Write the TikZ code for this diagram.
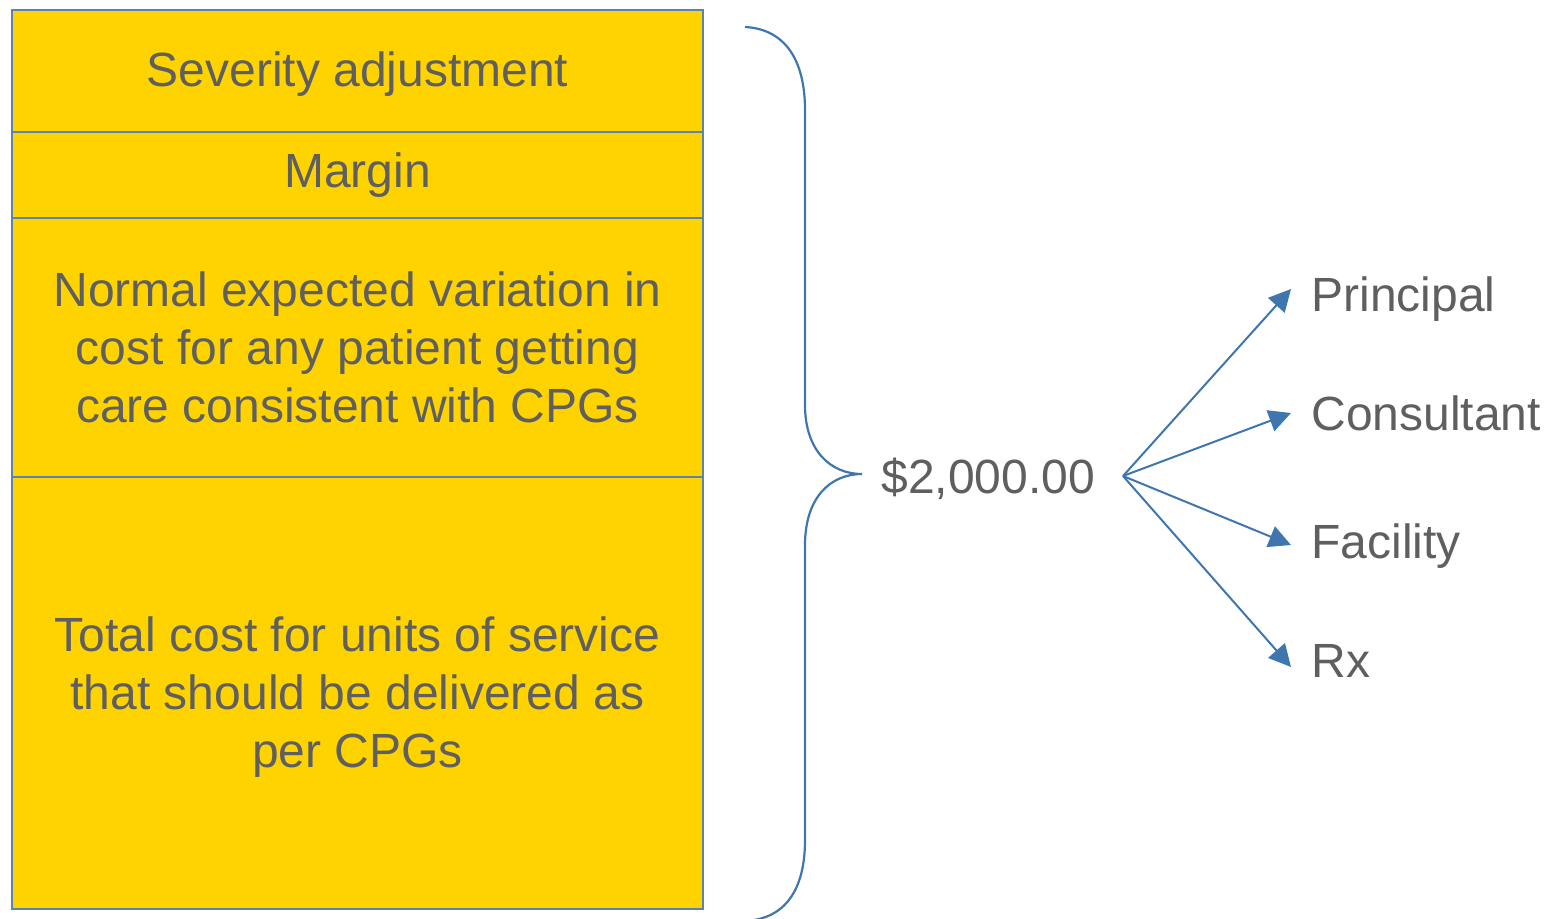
\documentclass[tikz,border=0pt]{standalone}
\usepackage{fontspec}
\setmainfont{Liberation Sans}
\usetikzlibrary{arrows.meta}
\definecolor{gold}{HTML}{FFD300}
\definecolor{edge}{HTML}{5A84AE}
\definecolor{txt}{HTML}{5F5F5F}
\definecolor{arrowblue}{HTML}{3F76AD}
\begin{document}
\begin{tikzpicture}[x=0.5pt,y=-0.5pt,
  sect/.style={draw=edge, line width=1pt, fill=gold, text=txt, anchor=north west,
    minimum width=345.5pt, inner sep=0pt, align=center,
    font=\fontsize{24}{29}\selectfont},
  lbl/.style={text=txt, inner sep=0pt, font=\fontsize{24}{29}\selectfont},
  arr/.style={draw=arrowblue, line width=1pt, -{Triangle[length=11pt,width=11pt]}},
  bracestyle/.style={draw=arrowblue, line width=1.1pt}]
\useasboundingbox (0,0) rectangle (1546,918);
\node[sect, minimum height=61pt, text depth=2pt] (sev) at (11,9) {Severity adjustment};
\node[sect, minimum height=43pt] (mar) at (11,131) {Margin};
\node[sect, minimum height=129.5pt] (nor) at (11,217) {Normal expected variation in\\cost for any patient getting\\care consistent with CPGs};
\node[sect, minimum height=216pt] (tot) at (11,476) {\rule{0pt}{21.5pt}Total cost for units of service\\that should be delivered as\\per CPGs};
% brace
\draw[bracestyle] (745,27) .. controls (785,29) and (805,60) .. (805,110)
  -- (805,405) .. controls (805,450) and (830,474) .. (862,474)
  .. controls (830,474) and (805,498) .. (805,545)
  -- (805,840) .. controls (805,890) and (785,919) .. (745,921);
\node[lbl, anchor=base west] (amt) at (881,493) {\$2,000.00};
\coordinate (o) at (1123,476);
\node[lbl, anchor=base west] (P) at (1311,311) {Principal};
\node[lbl, anchor=base west] (C) at (1311,430) {Consultant};
\node[lbl, anchor=base west] (F) at (1311,558) {Facility};
\node[lbl, anchor=base west] (R) at (1311,677) {Rx};
\coordinate (tP) at (1291,289);
\coordinate (tC) at (1291,413);
\coordinate (tF) at (1291,545);
\coordinate (tR) at (1291,667);
\draw[arr] (o) -- (tP);
\draw[arr] (o) -- (tC);
\draw[arr] (o) -- (tF);
\draw[arr] (o) -- (tR);
\end{tikzpicture}
\end{document}
